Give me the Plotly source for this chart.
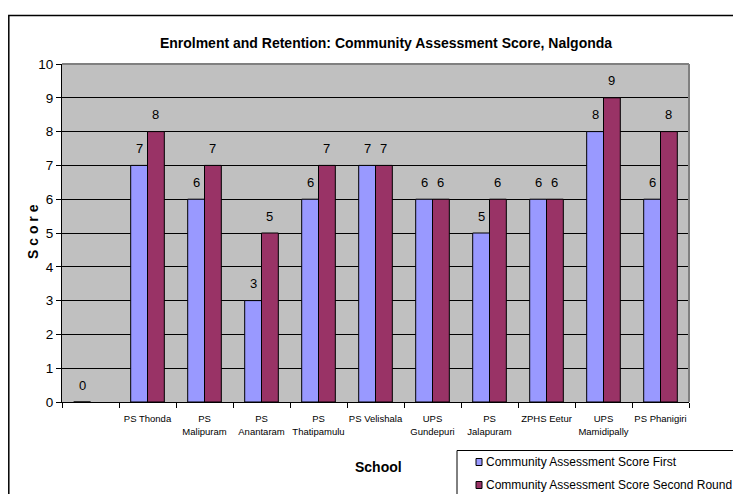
import plotly.graph_objects as go

schools = [" ", "PS Thonda", "PS<br>Malipuram", "PS<br>Anantaram", "PS<br>Thatipamulu",
           "PS Velishala", "UPS<br>Gundepuri", "PS<br>Jalapuram", "ZPHS Eetur",
           "UPS<br>Mamidipally", "PS Phanigiri"]
first_round = [0, 7, 6, 3, 6, 7, 6, 5, 6, 8, 6]
second_round = [None, 8, 7, 5, 7, 7, 6, 6, 6, 9, 8]
series_names = ["Community Assessment Score First", "Community Assessment Score Second Round"]
series_colors = ["#9999FF", "#993366"]
y_ticks = list(range(0, 11))

W, H = 741, 494
OFF = 8  # page body margin
# plot area in reference pixels: x 62..689, y 64..402
L = 62 - OFF
T = 64 - OFF
R = W - (689 - OFF)
B = H - (402 - OFF)
pw, ph = W - L - R, H - T - B

def fx(x):
    return (x - OFF - L) / pw

def fy(y):
    return 1 - (y - OFF - T) / ph

FONT = "Arial, Liberation Sans, sans-serif"
BARGAP = 0.41

fig = go.Figure()
for name, vals, col in zip(series_names, [first_round, second_round], series_colors):
    fig.add_trace(go.Bar(
        x=schools, y=vals, name=name,
        marker=dict(color=col, line=dict(color="#000000", width=1)),
    ))

# value labels above bars
bar_px = pw / len(schools) * (1 - BARGAP) / 2
for k, vals in enumerate([first_round, second_round]):
    shift = (k - 0.5) * bar_px
    for cat, v in zip(schools, vals):
        if v is None:
            continue
        fig.add_annotation(x=cat, y=v, text=str(v), showarrow=False,
                           xshift=shift, yshift=17, yanchor="middle",
                           font=dict(family=FONT, size=13, color="#000000"))

fig.update_layout(
    width=W, height=H,
    margin=dict(l=L, r=R, t=T, b=B, autoexpand=False),
    paper_bgcolor="#FFFFFF",
    plot_bgcolor="#C0C0C0",
    barmode="group",
    bargap=BARGAP,
    bargroupgap=0,
    showlegend=False,
    font=dict(family=FONT, size=13, color="#000000"),
    title=dict(text="<b>Enrolment and Retention: Community Assessment Score, Nalgonda</b>",
               x=fx(386), xref="paper", xanchor="center",
               y=1 - (43 - OFF) / H, yref="container", yanchor="middle",
               font=dict(family=FONT, size=14, color="#000000")),
    xaxis=dict(type="category", showgrid=False, tickson="boundaries",
               ticks="outside", ticklen=5, tickcolor="#000000",
               showline=True, linecolor="#000000", linewidth=1,
               tickfont=dict(family=FONT, size=9.5), tickangle=0,
               ticklabelstandoff=8),
    yaxis=dict(range=[0, 10], tickvals=y_ticks, showgrid=True, gridcolor="#000000",
               gridwidth=1, ticks="outside", ticklen=5, tickcolor="#000000",
               showline=True, linecolor="#000000", linewidth=1, zeroline=False,
               tickfont=dict(family=FONT, size=13.5)),
)

# plot area border (gray top/right)
fig.add_shape(type="line", xref="paper", yref="paper", x0=0, x1=1, y0=1, y1=1,
              line=dict(color="#808080", width=2), layer="above")
fig.add_shape(type="line", xref="paper", yref="paper", x0=1, x1=1, y0=0, y1=1,
              line=dict(color="#808080", width=2), layer="above")
# outer chart frame
fig.add_shape(type="rect", xref="paper", yref="paper", x0=fx(8.8), x1=fx(770),
              y0=fy(520), y1=fy(15.5), line=dict(color="#000000", width=1.5), layer="below")
# legend frame
fig.add_shape(type="rect", xref="paper", yref="paper", x0=fx(457), x1=fx(770),
              y0=fy(520), y1=fy(450.5), line=dict(color="#000000", width=1))
# legend entries
for i, (name, col) in enumerate(zip(series_names, series_colors)):
    yc = 462 + 23 * i
    fig.add_shape(type="rect", xref="paper", yref="paper",
                  x0=fx(476), x1=fx(482), y0=fy(yc + 3.5), y1=fy(yc - 3.5),
                  fillcolor=col, line=dict(color="#000000", width=1))
    fig.add_annotation(text=name, xref="paper", yref="paper", x=fx(484), y=fy(yc),
                       xanchor="left", yanchor="middle", showarrow=False,
                       font=dict(family=FONT, size=12))

fig.add_annotation(text="<b>School</b>", xref="paper", yref="paper", x=fx(378), y=fy(477),
                   showarrow=False, font=dict(family=FONT, size=14))
fig.add_annotation(text="<b>S c o r e</b>", xref="paper", yref="paper", x=fx(23), y=fy(232),
                   textangle=-90, showarrow=False, font=dict(family=FONT, size=14))

fig.write_html("out.html")
